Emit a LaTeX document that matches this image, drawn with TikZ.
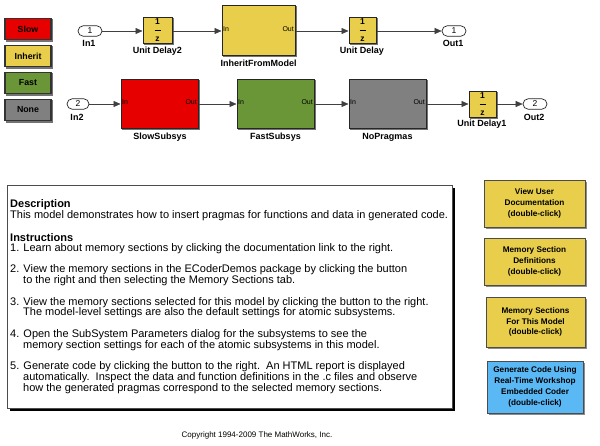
\documentclass[tikz,border=0pt]{standalone}
\usepackage{fontspec}
\setmainfont{Liberation Sans}
\usetikzlibrary{arrows.meta,shapes.misc}
\definecolor{slowred}{RGB}{230,0,0}
\definecolor{inhyel}{RGB}{232,206,74}
\definecolor{fastgrn}{RGB}{106,150,56}
\definecolor{nonegry}{RGB}{128,128,128}
\definecolor{genblue}{RGB}{90,185,245}
\tikzset{
  conn/.style={draw=black!75, line width=0.5pt, -{Triangle[length=7pt,width=6pt]}},
  shad/.style={preaction={fill=black!55, draw=black!55, transform canvas={xshift=1.5pt,yshift=-1.5pt}}},
  blk/.style={draw=black!85, line width=1pt, inner sep=0pt, shad},
  port/.style={rounded rectangle, draw=black!85, line width=0.7pt, fill=white, minimum width=24pt, minimum height=10.5pt, inner sep=0pt, font=\fontsize{8.5}{8.5}\selectfont},
  blabel/.style={font=\bfseries\fontsize{9}{9}\selectfont, inner sep=0pt},
  plabel/.style={font=\fontsize{7}{7}\selectfont, inner sep=1.5pt},
  udtxt/.style={font=\bfseries\fontsize{8.5}{8.5}\selectfont, inner sep=1.5pt},
  legend/.style={draw=black!80, line width=1.3pt, minimum width=46pt, minimum height=21pt, inner sep=0pt, font=\bfseries\fontsize{8.8}{8.8}\selectfont, shad},
  btn/.style={draw=black!70, line width=0.6pt, inner sep=0pt, align=center, font=\bfseries\fontsize{8.2}{10.8}\selectfont, preaction={fill=black!45, transform canvas={xshift=1.5pt,yshift=-1.5pt}}},
  desc/.style={anchor=west, inner sep=0pt, font=\fontsize{11}{11}\selectfont},
  descb/.style={anchor=west, inner sep=0pt, font=\bfseries\fontsize{11}{11}\selectfont},
}
\begin{document}
\begin{tikzpicture}[x=1pt,y=-1pt]
\useasboundingbox[fill=white] (0,0) rectangle (600,445);

% legend
\node[legend, fill=slowred] (lslow) at (28,29) {Slow};
\node[legend, fill=inhyel] (linh) at (28,56) {Inherit};
\node[legend, fill=fastgrn] (lfast) at (28,83) {Fast};
\node[legend, fill=nonegry] (lnone) at (28,110) {None};

% row 1
\node[port] (in1) at (90,31) {1};
\node[blabel] (in1l) at (89,43) {In1};
\node[blk, fill=inhyel, minimum width=29pt, minimum height=26pt] (ud2) at (157.5,30) {};
\node[udtxt, anchor=north] (ud2n) at (ud2.north) {1};
\node[udtxt, anchor=south] (ud2d) at (ud2.south) {z};
\draw[line width=0.5pt] ([xshift=-3pt]ud2.center) -- ([xshift=3pt]ud2.center);
\node[blabel] (ud2l) at (157.5,51) {Unit Delay2};
\node[blk, fill=inhyel, minimum width=73pt, minimum height=50pt] (ifm) at (258.5,30) {};
\node[plabel, anchor=west] (ifmi) at ([yshift=1pt]ifm.west) {In};
\node[plabel, anchor=east] (ifmo) at ([yshift=1pt]ifm.east) {Out};
\node[blabel] (ifml) at (258.5,63) {InheritFromModel};
\node[blk, fill=inhyel, minimum width=27pt, minimum height=26pt] (ud) at (362.5,30) {};
\node[udtxt, anchor=north] (udn) at (ud.north) {1};
\node[udtxt, anchor=south] (udd) at (ud.south) {z};
\draw[line width=0.5pt] ([xshift=-3pt]ud.center) -- ([xshift=3pt]ud.center);
\node[blabel] (udl) at (362,51) {Unit Delay};
\node[port] (out1) at (454,31) {1};
\node[blabel] (out1l) at (453,43) {Out1};

\draw[conn] (in1.east) -- (ud2.west |- in1.east);
\draw[conn] (ud2.east |- in1.east) -- (ifm.west |- in1.east);
\draw[conn] (ifm.east |- in1.east) -- (ud.west |- in1.east);
\draw[conn] (ud.east |- in1.east) -- (out1.west);

% row 2
\node[port, minimum width=22pt] (in2) at (78,104) {2};
\node[blabel] (in2l) at (77,117) {In2};
\node[blk, fill=slowred, minimum width=77pt, minimum height=49pt] (slow) at (159.5,103.5) {};
\node[plabel, anchor=west] (slowi) at ([yshift=1pt]slow.west) {In};
\node[plabel, anchor=east] (slowo) at ([yshift=1pt]slow.east) {Out};
\node[blabel] (slowl) at (160,137) {SlowSubsys};
\node[blk, fill=fastgrn, minimum width=77pt, minimum height=49pt] (fast) at (275.5,103.5) {};
\node[plabel, anchor=west] (fasti) at ([yshift=1pt]fast.west) {In};
\node[plabel, anchor=east] (fasto) at ([yshift=1pt]fast.east) {Out};
\node[blabel] (fastl) at (275.5,137) {FastSubsys};
\node[blk, fill=nonegry, minimum width=77pt, minimum height=49pt] (nop) at (387.5,103.5) {};
\node[plabel, anchor=west] (nopi) at ([yshift=1pt]nop.west) {In};
\node[plabel, anchor=east] (nopo) at ([yshift=1pt]nop.east) {Out};
\node[blabel] (nopl) at (387.5,137) {NoPragmas};
\node[blk, fill=inhyel, minimum width=27pt, minimum height=26pt] (ud1) at (482.5,104) {};
\node[udtxt, anchor=north] (ud1n) at (ud1.north) {1};
\node[udtxt, anchor=south] (ud1d) at (ud1.south) {z};
\draw[line width=0.5pt] ([xshift=-3pt]ud1.center) -- ([xshift=3pt]ud1.center);
\node[blabel] (ud1l) at (482,124) {Unit Delay1};
\node[port] (out2) at (535,104) {2};
\node[blabel] (out2l) at (534,117) {Out2};

\draw[conn] (in2.east) -- (slow.west |- in2.east);
\draw[conn] (slow.east |- in2.east) -- (fast.west |- in2.east);
\draw[conn] (fast.east |- in2.east) -- (nop.west |- in2.east);
\draw[conn] (nop.east |- in2.east) -- (ud1.west |- in2.east);
\draw[conn] (ud1.east |- in2.east) -- (out2.west);

% description box
\fill[black] (10,188) rectangle (455,411);
\draw[fill=white, draw=black!70, line width=0.8pt] (7,185) rectangle (452,408);
\node[descb] (t1) at (10,205) {Description};
\node[desc] (t2) at (10,215.8) {This model demonstrates how to insert pragmas for functions and data in generated code.};
\node[descb] (t3) at (10,237.4) {Instructions};
\node[desc] (t4) at (10,248.2) {1. Learn about memory sections by clicking the documentation link to the right.};
\node[desc] (t5) at (10,269.8) {2. View the memory sections in the ECoderDemos package by clicking the button};
\node[desc] (t6) at (23,280.6) {to the right and then selecting the Memory Sections tab.};
\node[desc] (t7) at (10,302.2) {3. View the memory sections selected for this model by clicking the button to the right.};
\node[desc] (t8) at (23,313) {The model-level settings are also the default settings for atomic subsystems.};
\node[desc] (t9) at (10,334.6) {4. Open the SubSystem Parameters dialog for the subsystems to see the};
\node[desc] (t10) at (23,345.4) {memory section settings for each of the atomic subsystems in this model.};
\node[desc] (t11) at (10,367) {5. Generate code by clicking the button to the right.\ \ An HTML report is displayed};
\node[desc] (t12) at (23,377.8) {automatically.\ \ Inspect the data and function definitions in the .c files and observe};
\node[desc] (t13) at (23,388.6) {how the generated pragmas correspond to the selected memory sections.};

% buttons
\node[btn, fill=inhyel, minimum width=101pt, minimum height=47pt] (b1) at (534.5,203.5) {View User\\Documentation\\(double-click)};
\node[btn, fill=inhyel, minimum width=101pt, minimum height=47pt] (b2) at (534.5,261.5) {Memory Section\\Definitions\\(double-click)};
\node[btn, fill=inhyel, minimum width=99pt, minimum height=50pt] (b3) at (535.5,322) {Memory Sections\\For This Model\\(double-click)};
\node[btn, fill=genblue, minimum width=96pt, minimum height=52pt] (b4) at (535,387) {Generate Code Using\\Real-Time Workshop\\Embedded Coder\\(double-click)};

% copyright
\node[font=\fontsize{8}{8}\selectfont, inner sep=0pt] (copy) at (257,435) {Copyright 1994-2009 The MathWorks, Inc.};
\end{tikzpicture}
\end{document}
